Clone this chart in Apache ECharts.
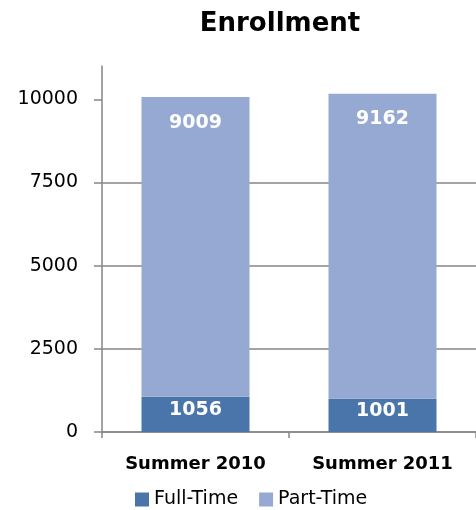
<!DOCTYPE html>
<html>
<head>
<meta charset="utf-8">
<script src="https://cdn.jsdelivr.net/npm/echarts@6/dist/echarts.min.js"></script>
<style>html,body{margin:0;padding:0;background:#fff}#c{width:476px;height:510px}</style>
</head>
<body>
<div id="c"></div>
<script>
var categories = ['Summer 2010', 'Summer 2011'];
var fullTime = [1056, 1001];
var partTime = [9009, 9162];
var yTicks = [0, 2500, 5000, 7500, 10000];
var seriesNames = ['Full-Time', 'Part-Time'];

var FONT = 'DejaVu Sans';
var axisColor = '#868686';
var chart = echarts.init(document.getElementById('c'));
chart.setOption({
  animation: false,
  title: {
    text: 'Enrollment',
    left: 275,
    top: 6,
    textAlign: 'center',
    textStyle: { fontFamily: FONT, fontSize: 26, fontWeight: 'bold', color: '#000' }
  },
  legend: {
    data: seriesNames,
    left: 130,
    top: 485,
    itemWidth: 14,
    itemHeight: 14,
    itemGap: 21,
    icon: 'rect',
    textStyle: { fontFamily: FONT, fontSize: 19, color: '#000' }
  },
  grid: { left: 102, right: -2, top: 66, bottom: 78 },
  xAxis: {
    type: 'category',
    data: categories,
    axisLine: { lineStyle: { color: axisColor, width: 1.5 } },
    axisTick: { show: true, length: 6, lineStyle: { color: axisColor, width: 1.5 } },
    axisLabel: { fontFamily: FONT, fontSize: 18, fontWeight: 'bold', color: '#000', margin: 23 }
  },
  yAxis: {
    type: 'value',
    min: 0,
    max: 11000,
    interval: 2500,
    axisLine: { show: true, lineStyle: { color: axisColor, width: 1.5 } },
    axisTick: { show: true, length: 8, customValues: yTicks, lineStyle: { color: axisColor, width: 1.5 } },
    axisLabel: {
      customValues: yTicks,
      formatter: function (v) { return String(v); },
      fontFamily: FONT, fontSize: 19, color: '#000', margin: 24
    },
    splitLine: { show: true, showMaxLine: false, lineStyle: { color: axisColor, width: 1.5 } }
  },
  series: [
    {
      name: seriesNames[0],
      type: 'bar',
      stack: 'total',
      barWidth: 108,
      data: fullTime,
      itemStyle: { color: '#4A75AA' },
      label: { show: true, position: 'inside', offset: [0, -4], fontFamily: FONT, fontSize: 19, fontWeight: 'bold', color: '#fff' }
    },
    {
      name: seriesNames[1],
      type: 'bar',
      stack: 'total',
      barWidth: 108,
      data: partTime,
      itemStyle: { color: '#95A9D2' },
      label: { show: true, position: 'insideTop', distance: 16, fontFamily: FONT, fontSize: 19, fontWeight: 'bold', color: '#fff' }
    }
  ]
});
</script>
</body>
</html>
